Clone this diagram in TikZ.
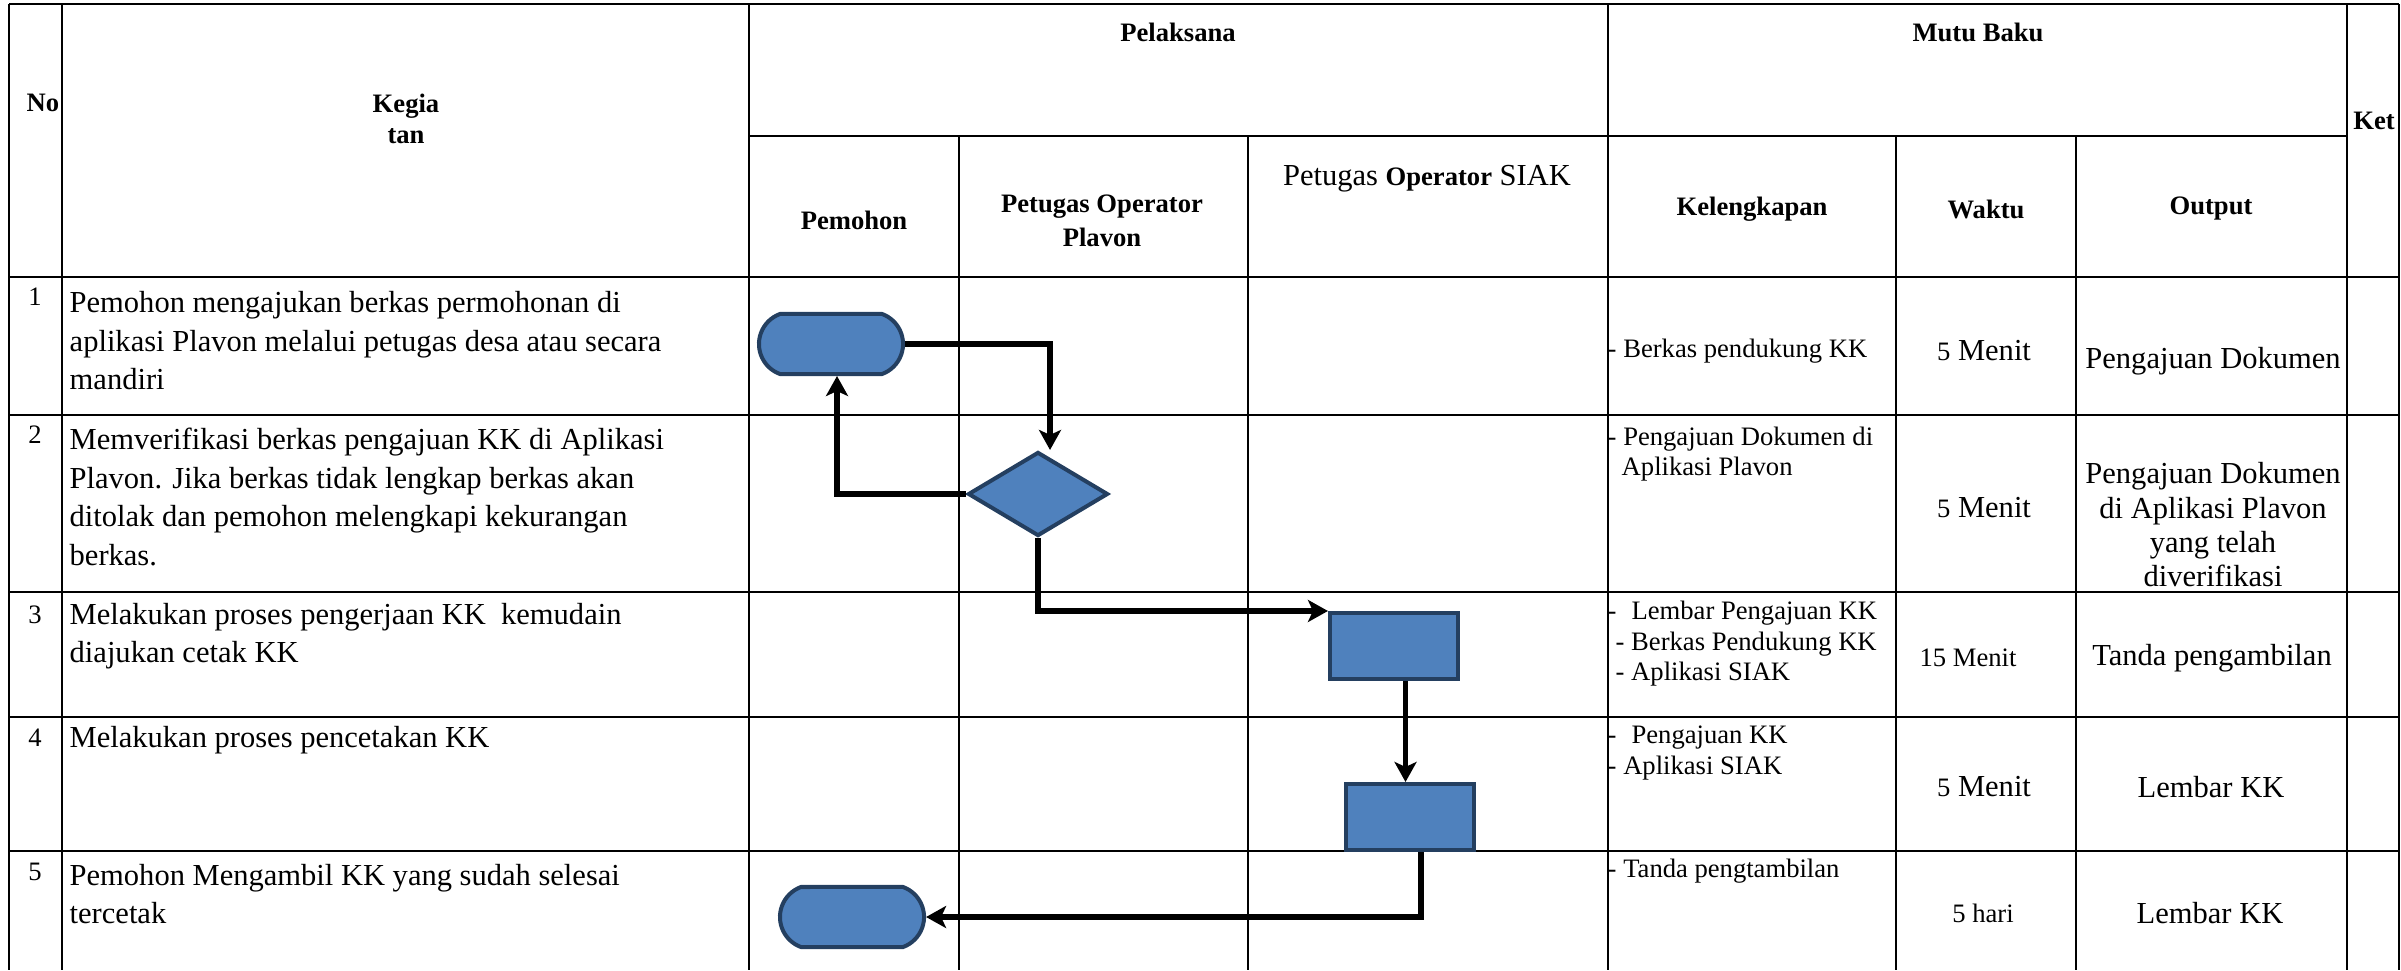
\documentclass[tikz,border=0pt]{standalone}
\usepackage{fontspec}
\setmainfont{Liberation Serif}
\usetikzlibrary{arrows.meta, shapes.geometric, shapes.misc}
\definecolor{flowfill}{HTML}{4F81BD}
\definecolor{flowline}{HTML}{243F60}
\newcommand{\bigtxt}{\fontsize{8.68}{10.95}\selectfont}
\newcommand{\smalltxt}{\fontsize{7.57}{8.68}\selectfont}
\tikzstyle{tabline}=[line width=0.75pt]
\tikzstyle{terminal}=[rounded rectangle, rounded rectangle arc length=140, draw=flowline, fill=flowfill, line width=0.04cm, inner sep=0pt, minimum width=1.44cm, minimum height=0.6cm]
\tikzstyle{decision}=[diamond, draw=flowline, fill=flowfill, line width=0.04cm, inner sep=0pt, minimum width=1.4cm, minimum height=0.84cm]
\tikzstyle{process}=[rectangle, draw=flowline, fill=flowfill, line width=0.04cm, inner sep=0pt, minimum width=1.28cm, minimum height=0.66cm]
\tikzstyle{flow}=[line width=0.055cm, -{Stealth[length=0.2cm, width=0.22cm, inset=0.05cm]}]
\tikzstyle{head}=[font=\smalltxt\bfseries, inner sep=0pt]
\tikzstyle{body}=[font=\bigtxt, inner sep=0pt]
\tikzstyle{note}=[font=\smalltxt, inner sep=0pt]

\begin{document}
\begin{tikzpicture}[x=0.01cm, y=-0.01cm]
\useasboundingbox (0,0) rectangle (2401,970);
% table
\foreach \y in {4,277,415,592,717,851}
    \draw[tabline] (9,\y) -- (2399,\y);
\draw[tabline] (749,136) -- (2347,136);
\foreach \x in {9,62,749,1608,2347,2399}
    \draw[tabline] (\x,4) -- (\x,970);
\foreach \x in {959,1248,1896,2076}
    \draw[tabline] (\x,136) -- (\x,970);

% header
\node[head] (no) at (43,103) {No};
\node[head, align=center] (kegiatan) at (406,119) {Kegia\\tan};
\node[head] (pelaksana) at (1178,32) {Pelaksana};
\node[head] (mutubaku) at (1978,32) {Mutu Baku};
\node[head] (ket) at (2374,121) {Ket};
\node[head] (pemohon) at (854,220) {Pemohon};
\node[head, align=center, font=\fontsize{7.57}{9.67}\selectfont\bfseries] (plavon) at (1102,221) {Petugas Operator\\Plavon};
\node[body] (siak) at (1427,179) {Petugas {\smalltxt\bfseries Operator} SIAK};
\node[head] (kelengkapan) at (1752,209) {Kelengkapan};
\node[head] (waktu) at (1986,209) {Waktu};
\node[head] (output) at (2211,209) {Output};

% nomor
\foreach \n/\y in {1/297,2/435,3/615,4/738,5/872}
    \node[note] (no\n) at (35,\y) {\n};

% kegiatan
\node[body, anchor=west, align=left] (keg1) at (69,341) {Pemohon mengajukan berkas permohonan di\\aplikasi Plavon melalui petugas desa atau secara\\mandiri};
\node[body, anchor=west, align=left] (keg2) at (69,497) {Memverifikasi berkas pengajuan KK di Aplikasi\\Plavon. Jika berkas tidak lengkap berkas akan\\ditolak dan pemohon melengkapi kekurangan\\berkas.};
\node[body, anchor=west, align=left] (keg3) at (69,636) {Melakukan proses pengerjaan KK \ kemudain\\diajukan cetak KK};
\node[body, anchor=west] (keg4) at (69,740) {Melakukan proses pencetakan KK};
\node[body, anchor=west, align=left] (keg5) at (69,894) {Pemohon Mengambil KK yang sudah selesai\\tercetak};

% kelengkapan
\node[note, anchor=west] (kel1) at (1607,351) {- Berkas pendukung KK};
\node[note, anchor=west, align=left] (kel2) at (1607,454) {- Pengajuan Dokumen di\\\hspace*{0.14cm}Aplikasi Plavon};
\node[note, anchor=west, align=left] (kel3) at (1607,644) {-\hspace{0.15cm}Lembar Pengajuan KK\\\hspace*{0.08cm}- Berkas Pendukung KK\\\hspace*{0.08cm}- Aplikasi SIAK};
\node[note, anchor=west, align=left] (kel4) at (1607,753) {-\hspace{0.15cm}Pengajuan KK\\- Aplikasi SIAK};
\node[note, anchor=west] (kel5) at (1607,871) {- Tanda pengtambilan};

% waktu
\node[body] (wkt1) at (1984,351) {{\smalltxt 5} Menit};
\node[body] (wkt2) at (1984,508) {{\smalltxt 5} Menit};
\node[note] (wkt3) at (1968,658) {15 Menit};
\node[body] (wkt4) at (1984,787) {{\smalltxt 5} Menit};
\node[note] (wkt5) at (1983,913) {5 hari};

% output
\node[body] (out1) at (2213,361) {Pengajuan Dokumen};
\node[body, align=center, font=\fontsize{8.68}{9.76}\selectfont] (out2) at (2213,525) {Pengajuan Dokumen\\di Aplikasi Plavon\\yang telah\\diverifikasi};
\node[body] (out3) at (2212,658) {Tanda pengambilan};
\node[body] (out4) at (2211,787) {Lembar KK};
\node[body] (out5) at (2210,913) {Lembar KK};

% flowchart
\node[terminal] (mulai) at (831,344) {};
\node[decision] (verif) at (1038,494) {};
\node[process] (proses) at (1394,646) {};
\node[process] (cetak) at (1410,817) {};
\node[terminal] (ambil) at (852,917) {};

\draw[flow] (mulai.east) -| ([xshift=0.12cm]verif.north);
\draw[flow] (verif.west) -| ([xshift=0.06cm]mulai.south);
\draw[flow] (verif.south) |- (proses.north west);
\coordinate (p1) at ([xshift=0.115cm]proses.south);
\draw[flow] (p1) -- (p1 |- cetak.north);
\coordinate (p2) at ([xshift=0.11cm]cetak.south);
\draw[flow] (p2) |- (ambil.east);
\end{tikzpicture}
\end{document}
